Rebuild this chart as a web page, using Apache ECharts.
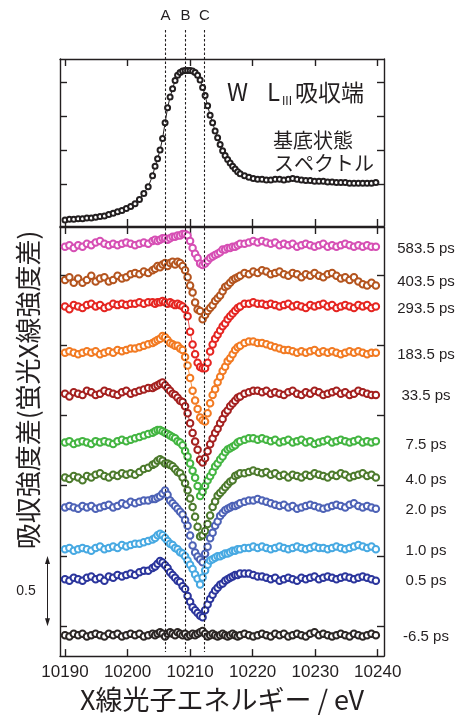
<!DOCTYPE html>
<html>
<head>
<meta charset="utf-8">
<script src="https://cdn.jsdelivr.net/npm/echarts@6/dist/echarts.min.js"></script>
<style>
html,body{margin:0;padding:0;background:#fff;}
#main{width:464px;height:718px;}
</style>
</head>
<body>
<div id="main"></div>
<script>
// photon energy (eV): coarse pre-edge, fine edge region, coarse post-edge
var energy = [
  10190.0, 10190.7, 10191.4, 10192.1, 10192.8, 10193.5, 10194.2, 10194.9, 10195.6, 10196.3,
  10197.0, 10197.7, 10198.4, 10199.1, 10199.8, 10200.5, 10201.2, 10201.9, 10202.6, 10203.3,
  10204.0, 10204.4, 10204.8, 10205.2, 10205.6, 10206.0, 10206.4, 10206.8, 10207.2, 10207.6,
  10208.0, 10208.4, 10208.8, 10209.2, 10209.6, 10210.0, 10210.4, 10210.8, 10211.2, 10211.6,
  10212.0, 10212.4, 10212.8, 10213.2, 10213.6, 10214.0, 10214.4, 10214.8, 10215.2, 10215.6,
  10216.0, 10216.4, 10216.8, 10217.2, 10217.6, 10218.0,
  10218.7, 10219.4, 10220.1, 10220.8, 10221.5, 10222.2, 10222.9, 10223.6, 10224.3, 10225.0,
  10225.7, 10226.4, 10227.1, 10227.8, 10228.5, 10229.2, 10229.9, 10230.6, 10231.3, 10232.0,
  10232.7, 10233.4, 10234.1, 10234.8, 10235.5, 10236.2, 10236.9, 10237.6, 10238.3, 10239.0,
  10239.7
];

// ground state spectrum (top panel)
var groundState = [
  -0.03, -0.02, -0.02, -0.01, -0.01, 0.00, 0.00, 0.01, 0.02, 0.03, 0.05, 0.07, 0.09, 0.11, 0.14, 0.17, 0.21, 0.27, 0.36, 0.46,
  0.62, 0.76, 0.87, 1.00, 1.17, 1.40, 1.62, 1.78, 1.90, 2.02, 2.10, 2.14, 2.16, 2.17, 2.17, 2.17, 2.16, 2.14, 2.10, 2.03,
  1.92, 1.80, 1.65, 1.51, 1.40, 1.28, 1.18, 1.08, 0.99, 0.92, 0.86, 0.81, 0.76, 0.72, 0.68, 0.65,
  0.62, 0.60, 0.58, 0.57, 0.57, 0.56, 0.56, 0.57, 0.57, 0.56, 0.57, 0.58, 0.57, 0.56, 0.55, 0.55, 0.54, 0.54, 0.54, 0.53,
  0.53, 0.52, 0.52, 0.52, 0.51, 0.51, 0.51, 0.51, 0.51, 0.51, 0.52
];

// difference spectra (excited - ground), before vertical offset
var d583 = [
  0.00, 0.01, -0.01, 0.01, 0.00, 0.02, 0.01, 0.03, 0.04, 0.02, 0.01, 0.02, 0.01, 0.02, 0.03, 0.02, 0.01, 0.02, 0.03, 0.02,
  0.04, 0.05, 0.04, 0.05, 0.06, 0.06, 0.05, 0.06, 0.07, 0.07, 0.08, 0.08, 0.09, 0.09, 0.08, 0.04, -0.01, -0.05, -0.08, -0.12,
  -0.13, -0.12, -0.10, -0.08, -0.07, -0.06, -0.05, -0.04, -0.02, -0.02, -0.01, -0.01, 0.00, 0.00, 0.01, 0.02,
  0.02, 0.03, 0.04, 0.03, 0.04, 0.03, 0.02, 0.03, 0.01, 0.02, 0.01, 0.02, 0.00, 0.01, 0.02, 0.01, 0.00, 0.01, 0.02, 0.00,
  0.01, 0.00, 0.01, 0.02, 0.01, 0.00, 0.01, 0.00, 0.01, 0.00, 0.00
];
var d403 = [
  0.00, 0.02, -0.02, 0.01, -0.02, 0.00, 0.03, -0.01, 0.01, 0.02, -0.01, 0.00, 0.03, 0.01, 0.02, 0.04, 0.05, 0.04, 0.06, 0.05,
  0.07, 0.08, 0.10, 0.09, 0.11, 0.12, 0.10, 0.12, 0.13, 0.11, 0.13, 0.12, 0.10, 0.07, 0.02, -0.04, -0.09, -0.16, -0.21, -0.22,
  -0.28, -0.25, -0.22, -0.20, -0.18, -0.15, -0.13, -0.11, -0.08, -0.05, -0.04, -0.02, 0.00, 0.01, 0.02, 0.03,
  0.05, 0.04, 0.06, 0.05, 0.07, 0.06, 0.04, 0.05, 0.06, 0.04, 0.03, 0.05, 0.04, 0.02, 0.04, 0.03, 0.05, 0.03, 0.02, 0.04,
  0.05, 0.03, 0.01, 0.02, 0.00, 0.02, -0.01, -0.03, -0.04, -0.02, -0.04
];
var d293 = [
  0.00, -0.02, 0.01, 0.00, -0.01, 0.01, 0.02, 0.00, 0.01, -0.01, 0.00, 0.02, 0.01, 0.02, 0.01, 0.02, 0.02, 0.03, 0.02, 0.03,
  0.03, 0.02, 0.03, 0.03, 0.04, 0.03, 0.02, 0.03, 0.02, 0.01, 0.02, 0.01, 0.00, -0.02, -0.07, -0.18, -0.27, -0.34, -0.40, -0.43,
  -0.44, -0.44, -0.40, -0.32, -0.27, -0.23, -0.20, -0.17, -0.14, -0.12, -0.09, -0.07, -0.05, -0.03, -0.01, 0.00,
  0.02, 0.02, 0.03, 0.02, 0.02, 0.01, 0.02, 0.01, 0.00, 0.01, 0.02, 0.00, 0.01, 0.00, -0.01, 0.01, 0.00, 0.01, 0.02, 0.00,
  0.01, -0.01, 0.00, 0.01, 0.00, -0.01, 0.01, 0.00, 0.01, -0.01, 0.00
];
var d183 = [
  0.00, 0.01, 0.00, -0.01, 0.00, 0.01, 0.00, 0.01, -0.01, 0.00, 0.01, 0.00, 0.02, 0.01, 0.02, 0.03, 0.03, 0.04, 0.05, 0.06,
  0.07, 0.08, 0.09, 0.10, 0.12, 0.11, 0.09, 0.07, 0.06, 0.05, 0.05, 0.03, 0.02, -0.03, -0.09, -0.18, -0.27, -0.34, -0.40, -0.46,
  -0.48, -0.49, -0.43, -0.36, -0.30, -0.26, -0.21, -0.17, -0.13, -0.10, -0.06, -0.04, -0.01, 0.02, 0.04, 0.05,
  0.07, 0.08, 0.08, 0.07, 0.07, 0.06, 0.05, 0.04, 0.03, 0.02, 0.02, 0.01, 0.00, 0.01, 0.00, 0.01, 0.02, 0.00, 0.01, 0.00,
  0.01, 0.00, -0.01, 0.00, 0.01, 0.00, 0.01, 0.00, -0.01, 0.00, 0.00
];
var d33 = [
  0.00, -0.02, 0.01, 0.00, -0.01, 0.02, 0.01, -0.01, 0.00, 0.02, 0.01, 0.00, -0.01, 0.01, 0.02, 0.00, 0.01, 0.02, 0.03, 0.04,
  0.04, 0.05, 0.06, 0.07, 0.08, 0.06, 0.04, 0.02, 0.00, -0.01, -0.03, -0.05, -0.06, -0.09, -0.14, -0.21, -0.28, -0.34, -0.40, -0.47,
  -0.49, -0.46, -0.41, -0.36, -0.32, -0.28, -0.25, -0.21, -0.18, -0.14, -0.12, -0.09, -0.07, -0.05, -0.03, -0.02,
  0.00, 0.01, 0.02, 0.02, 0.01, 0.02, 0.00, 0.01, 0.00, -0.01, 0.01, 0.02, 0.00, -0.01, 0.01, 0.00, 0.02, 0.01, -0.01, 0.00,
  0.01, 0.02, 0.00, 0.01, -0.01, 0.00, 0.02, 0.01, 0.00, -0.01, -0.01
];
var d75 = [
  0.00, 0.01, -0.01, 0.00, 0.01, 0.00, -0.01, 0.01, 0.00, 0.01, 0.00, -0.01, 0.01, 0.02, 0.01, 0.02, 0.03, 0.04, 0.05, 0.06,
  0.07, 0.08, 0.09, 0.09, 0.08, 0.07, 0.06, 0.05, 0.04, 0.03, 0.01, 0.00, -0.02, -0.06, -0.10, -0.15, -0.20, -0.25, -0.31, -0.38,
  -0.35, -0.31, -0.27, -0.24, -0.21, -0.17, -0.15, -0.12, -0.10, -0.07, -0.05, -0.04, -0.03, -0.02, 0.00, 0.01,
  0.02, 0.03, 0.03, 0.02, 0.03, 0.02, 0.01, 0.02, 0.00, 0.01, 0.02, 0.00, 0.01, 0.02, 0.00, 0.01, -0.01, 0.00, 0.01, 0.02,
  0.00, 0.01, 0.02, 0.01, 0.00, 0.01, 0.02, 0.00, 0.01, 0.00, 0.01
];
var d40 = [
  0.00, -0.01, 0.01, 0.00, -0.02, 0.01, 0.00, 0.02, 0.03, 0.01, 0.00, 0.02, 0.01, 0.03, 0.02, 0.03, 0.02, 0.04, 0.06, 0.07,
  0.09, 0.10, 0.12, 0.13, 0.12, 0.10, 0.10, 0.09, 0.08, 0.06, 0.04, 0.03, 0.00, -0.04, -0.09, -0.15, -0.21, -0.28, -0.35, -0.42,
  -0.41, -0.38, -0.33, -0.27, -0.21, -0.17, -0.13, -0.11, -0.09, -0.07, -0.05, -0.03, -0.02, 0.01, 0.02, 0.03,
  0.03, 0.04, 0.05, 0.04, 0.03, 0.04, 0.02, 0.03, 0.01, 0.02, 0.00, 0.02, 0.01, 0.00, 0.02, 0.01, 0.03, 0.02, 0.01, 0.00,
  0.02, 0.01, 0.03, 0.02, 0.00, 0.01, 0.02, 0.03, 0.01, 0.02, 0.00
];
var d20 = [
  0.00, 0.01, 0.00, -0.01, 0.01, 0.00, 0.01, -0.01, 0.00, 0.01, 0.02, 0.00, 0.01, 0.03, 0.02, 0.04, 0.03, 0.04, 0.05, 0.05,
  0.06, 0.06, 0.07, 0.08, 0.10, 0.12, 0.09, 0.05, 0.03, 0.01, -0.01, -0.03, -0.05, -0.09, -0.13, -0.20, -0.27, -0.32, -0.35, -0.37,
  -0.39, -0.33, -0.28, -0.22, -0.18, -0.13, -0.10, -0.06, -0.04, -0.02, -0.01, 0.00, 0.01, 0.01, 0.02, 0.03,
  0.04, 0.05, 0.05, 0.06, 0.05, 0.04, 0.03, 0.02, 0.01, 0.02, 0.00, 0.01, -0.01, 0.00, 0.01, 0.02, 0.01, 0.00, -0.01, 0.00,
  0.01, 0.02, 0.01, 0.00, 0.02, 0.03, 0.01, 0.00, 0.01, 0.00, -0.01
];
var d10 = [
  0.00, 0.01, -0.01, 0.00, 0.01, 0.00, -0.01, 0.01, 0.02, 0.00, 0.01, 0.02, 0.01, 0.03, 0.02, 0.03, 0.04, 0.04, 0.05, 0.06,
  0.07, 0.08, 0.10, 0.11, 0.10, 0.08, 0.06, 0.04, 0.03, 0.01, 0.00, -0.02, -0.03, -0.05, -0.08, -0.11, -0.14, -0.18, -0.21, -0.25,
  -0.20, -0.15, -0.11, -0.08, -0.07, -0.06, -0.05, -0.05, -0.04, -0.03, -0.03, -0.02, -0.01, -0.01, 0.00, 0.00,
  0.01, 0.01, 0.02, 0.01, 0.02, 0.01, 0.00, 0.01, 0.02, 0.01, 0.00, 0.01, 0.02, 0.01, 0.00, 0.01, 0.02, 0.01, 0.01, 0.00,
  0.01, 0.02, 0.01, 0.00, 0.01, 0.02, 0.03, 0.02, 0.01, 0.02, 0.00
];
var d05 = [
  0.00, -0.01, 0.01, 0.00, -0.01, 0.01, 0.02, 0.00, 0.01, -0.01, 0.02, 0.01, 0.03, 0.02, 0.03, 0.04, 0.03, 0.05, 0.06, 0.06,
  0.08, 0.09, 0.11, 0.13, 0.12, 0.10, 0.08, 0.05, 0.03, 0.01, -0.01, -0.02, -0.05, -0.07, -0.12, -0.16, -0.20, -0.22, -0.24, -0.26,
  -0.27, -0.22, -0.18, -0.14, -0.11, -0.08, -0.06, -0.04, -0.03, -0.01, 0.00, 0.01, 0.02, 0.03, 0.03, 0.04,
  0.04, 0.04, 0.03, 0.02, 0.02, 0.01, 0.00, 0.01, -0.01, 0.00, 0.01, 0.00, -0.01, 0.01, 0.00, 0.01, 0.02, 0.00, 0.01, 0.02,
  0.01, 0.00, 0.01, 0.02, 0.01, 0.00, 0.01, 0.02, 0.01, 0.00, -0.01
];
var dm65 = [
  0.00, -0.01, 0.01, 0.00, 0.01, -0.01, 0.00, 0.01, 0.00, -0.01, 0.01, 0.00, 0.01, -0.01, 0.00, 0.01, 0.00, 0.01, -0.01, 0.00,
  0.01, 0.00, 0.01, 0.02, 0.01, -0.01, 0.01, 0.02, 0.01, 0.00, 0.02, 0.01, 0.00, 0.01, -0.01, 0.00, 0.01, 0.00, 0.01, 0.02,
  0.03, 0.01, -0.01, 0.00, 0.01, 0.00, -0.01, 0.00, 0.01, 0.00, -0.01, 0.00, 0.01, 0.00, -0.01, 0.00,
  0.01, 0.00, -0.01, 0.00, 0.01, 0.00, -0.01, 0.01, 0.00, 0.01, -0.01, 0.00, 0.01, 0.00, -0.01, 0.01, 0.02, 0.00, 0.01, 0.00,
  -0.01, 0.00, 0.01, 0.00, -0.01, 0.01, 0.00, -0.01, 0.00, 0.01, 0.00
];

var delays = ['583.5 ps', '403.5 ps', '293.5 ps', '183.5 ps', '33.5 ps', '7.5 ps', '4.0 ps', '2.0 ps', '1.0 ps', '0.5 ps', '-6.5 ps'];
var offsets = [2.701, 2.464, 2.275, 1.946, 1.655, 1.307, 1.058, 0.845, 0.547, 0.334, -0.064];
var colors = ['#d64fb4', '#b4541e', '#e52521', '#f27a22', '#a4201f', '#43b541', '#4c7a2c', '#4d62b6', '#47a9e2', '#2b359c', '#2b2624'];
var diffs = [d583, d403, d293, d183, d33, d75, d40, d20, d10, d05, dm65];

var xTicks = [10190, 10200, 10210, 10220, 10230, 10240];
var topTicks = [0.5, 1, 1.5, 2];
var diffTicks = [0, 0.5, 1, 1.5, 2, 2.5];
var markerE = [10206, 10209.2, 10212.2];
var markerNames = ['A', 'B', 'C'];
var scaleBar = [0, 0.5];

var ink = '#231f20';

function xAxisCfg(grid, pos, labels) {
  var a = {
    type: 'value', gridIndex: grid, position: pos, min: 10189.2, max: 10241,
    axisLine: { show: true, onZero: false, lineStyle: { color: ink, width: 1.4 } },
    axisTick: { show: true, inside: true, length: 7, customValues: xTicks, lineStyle: { color: ink, width: 1.4 } },
    axisLabel: { show: labels, customValues: xTicks, margin: 8, fontSize: 17, fontFamily: 'Liberation Sans', color: ink,
      formatter: function (v) { return String(v); } },
    splitLine: { show: false }
  };
  if (labels) {
    a.name = 'X線光子エネルギー / eV';
    a.nameLocation = 'middle';
    a.nameGap = 29;
    a.nameTextStyle = { fontSize: 27, fontFamily: 'Noto Sans CJK JP', color: ink };
  }
  return a;
}
function yAxisCfg(grid, pos, min, max, ticks) {
  return {
    type: 'value', gridIndex: grid, position: pos, min: min, max: max,
    axisLine: { show: true, onZero: false, lineStyle: { color: ink, width: 1.4 } },
    axisTick: { show: true, inside: true, length: 7, customValues: ticks, lineStyle: { color: ink, width: 1.4 } },
    axisLabel: { show: false },
    splitLine: { show: false }
  };
}

var series = [{
  type: 'line', xAxisIndex: 0, yAxisIndex: 0,
  data: energy.map(function (e, i) { return [e, groundState[i]]; }),
  symbol: 'emptyCircle', symbolSize: 5, showAllSymbol: true,
  itemStyle: { color: ink, borderWidth: 1.2 },
  lineStyle: { color: ink, width: 1 },
  z: 3
}];
diffs.forEach(function (d, k) {
  series.push({
    type: 'line', xAxisIndex: 2, yAxisIndex: 2,
    data: energy.map(function (e, i) { return [e, d[i] + offsets[k]]; }),
    symbol: 'emptyCircle', symbolSize: 6.5, showAllSymbol: true,
    itemStyle: { color: colors[k], borderWidth: 1.5 },
    lineStyle: { color: colors[k], width: 0.8 },
    z: 3
  });
});

var chart = echarts.init(document.getElementById('main'));
chart.setOption({
  animation: false,
  backgroundColor: '#fff',
  grid: [
    { left: 60, top: 59, width: 324, height: 167 },
    { left: 60, top: 227, width: 324, height: 430 }
  ],
  xAxis: [
    xAxisCfg(0, 'bottom', false), xAxisCfg(0, 'top', false),
    xAxisCfg(1, 'bottom', true), xAxisCfg(1, 'top', false)
  ],
  yAxis: [
    yAxisCfg(0, 'left', -0.118, 2.338, topTicks), yAxisCfg(0, 'right', -0.118, 2.338, topTicks),
    yAxisCfg(1, 'left', -0.213, 2.841, diffTicks), yAxisCfg(1, 'right', -0.213, 2.841, diffTicks)
  ],
  series: series
});

function px(x, y) { return chart.convertToPixel({ xAxisIndex: 2, yAxisIndex: 2 }, [x, y]); }
var txt = function (x, y, s, size, family, align, extra) {
  var o = { type: 'text', x: x, y: y, z: 60,
    style: { text: s, fontSize: size, fontFamily: family, fill: ink, align: align || 'left', verticalAlign: 'middle' } };
  if (extra) { for (var k in extra) o[k] = extra[k]; }
  return o;
};
var gr = [];
markerE.forEach(function (e, i) {
  var x = Math.round(px(e, 0)[0]) + 0.5;
  gr.push({ type: 'line', z: 50, shape: { x1: x, y1: 30, x2: x, y2: 652 },
    style: { stroke: ink, lineWidth: 1.1, lineDash: [2.5, 2] } });
  gr.push(txt(x, 16, markerNames[i], 15, 'Liberation Sans', 'center'));
});
delays.forEach(function (t, k) {
  gr.push(txt(426, px(10240, offsets[k])[1] + 2, t, 15, 'Liberation Sans', 'center'));
});
// scale bar
var yb = px(10190, scaleBar[0])[1], yt = px(10190, scaleBar[1])[1], xb = 47.5;
gr.push({ type: 'line', z: 50, shape: { x1: xb, y1: yt + 4, x2: xb, y2: yb - 4 }, style: { stroke: ink, lineWidth: 1 } });
gr.push({ type: 'polygon', z: 50, shape: { points: [[xb, yt], [xb - 2.5, yt + 8], [xb + 2.5, yt + 8]] }, style: { fill: ink } });
gr.push({ type: 'polygon', z: 50, shape: { points: [[xb, yb], [xb - 2.5, yb - 8], [xb + 2.5, yb - 8]] }, style: { fill: ink } });
gr.push(txt(26, (yt + yb) / 2, '0.5', 14, 'Liberation Sans', 'center'));
// y axis title
gr.push(txt(28, 390, '吸収強度差(蛍光X線強度差)', 26, 'Noto Sans CJK JP', 'center', { rotation: Math.PI / 2 }));
// top panel annotation
gr.push(txt(227, 92, 'W', 24, 'Noto Sans CJK JP', 'left'));
gr.push(txt(267, 92, 'L', 24, 'Noto Sans CJK JP', 'left'));
gr.push(txt(282, 102, 'III', 12, 'Liberation Sans', 'left'));
gr.push(txt(295, 92, '吸収端', 23, 'Noto Sans CJK JP', 'left'));
gr.push(txt(273, 140, '基底状態', 20, 'Noto Sans CJK JP', 'left'));
gr.push(txt(274, 163, 'スペクトル', 20, 'Noto Sans CJK JP', 'left'));
chart.setOption({ graphic: gr });
</script>
</body>
</html>
